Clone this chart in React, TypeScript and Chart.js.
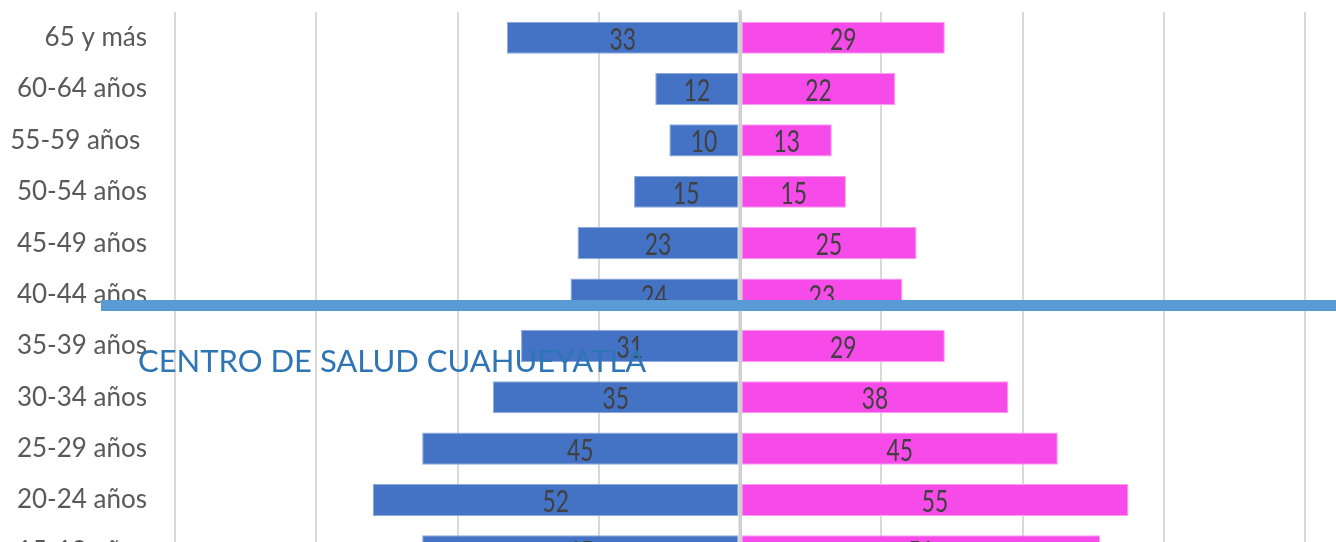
import React, { useEffect, useRef } from "react";
import { Chart, registerables } from "chart.js";

Chart.register(...registerables);

// ---- data (top to bottom as shown) ----
const ageGroups = [
  "65 y más",
  "60-64 años",
  "55-59 años ",
  "50-54 años",
  "45-49 años",
  "40-44 años",
  "35-39 años",
  "30-34 años",
  "25-29 años",
  "20-24 años",
  "15-19 años",
];
const hombres = [33, 12, 10, 15, 23, 24, 31, 35, 45, 52, 45];
const mujeres = [29, 22, 13, 15, 25, 23, 29, 38, 45, 55, 51];
const axisMin = -80;
const axisMax = 80;
const axisStep = 20;
const titleText = "CENTRO DE SALUD CUAHUEYATLA";

const valueLabels = {
  id: "valueLabels",
  afterDatasetsDraw(chart: any) {
    const ctx = chart.ctx as CanvasRenderingContext2D;
    const xs = chart.scales.x;
    const x0 = xs.getPixelForValue(0);
    ctx.save();
    ctx.strokeStyle = "#d0d0d0";
    ctx.lineWidth = 3;
    ctx.beginPath();
    ctx.moveTo(x0, chart.chartArea.top - 2);
    ctx.lineTo(x0, chart.chartArea.bottom);
    ctx.stroke();
    chart.data.datasets.forEach((ds: any, di: number) => {
      const meta = chart.getDatasetMeta(di);
      meta.data.forEach((el: any, i: number) => {
        const v = Math.abs(ds.data[i]);
        const cx = (el.x + el.base) / 2;
        ctx.save();
        ctx.translate(cx, el.y + 12);
        ctx.scale(0.76, 1);
        ctx.font = "30px Lato";
        ctx.fillStyle = "#404040";
        ctx.textAlign = "center";
        ctx.textBaseline = "alphabetic";
        ctx.fillText(String(v), 0, 0);
        ctx.restore();
      });
    });
    ctx.restore();
  },
};

export default function App() {
  const canvasRef = useRef<HTMLCanvasElement | null>(null);

  useEffect(() => {
    if (!canvasRef.current) return;
    const chart = new Chart(canvasRef.current, {
      type: "bar",
      data: {
        labels: ageGroups,
        datasets: [
          {
            label: "Hombres",
            data: hombres.map((v) => -v),
            backgroundColor: "#4472C4",
            borderColor: "#8EA9DB",
            borderWidth: 1,
            borderSkipped: false,
          },
          {
            label: "Mujeres",
            data: mujeres,
            backgroundColor: "#F64AE9",
            borderColor: "#FA9CF2",
            borderWidth: 1,
            borderSkipped: false,
          },
        ],
      },
      options: {
        indexAxis: "y",
        responsive: false,
        animation: false,
        layout: { padding: { top: 12, right: 31, bottom: 0, left: 0 } },
        datasets: {
          bar: { categoryPercentage: 1, barPercentage: 0.625 },
        },
        plugins: {
          legend: { display: false },
          tooltip: { enabled: false },
          title: { display: false },
        },
        scales: {
          x: {
            stacked: true,
            min: axisMin,
            max: axisMax,
            ticks: { display: false, stepSize: axisStep },
            border: { display: false },
            grid: {
              drawTicks: false,
              color: (c: any) => (c.tick && c.tick.value === 0 ? "#d0d0d0" : "#d9d9d9"),
              lineWidth: (c: any) => (c.tick && c.tick.value === 0 ? 3 : 2),
            },
          },
          y: {
            stacked: true,
            border: { display: false },
            grid: { display: false, drawTicks: false },
            ticks: {
              color: "#595959",
              font: { family: "Lato", size: 26 },
              padding: 28,
            },
            afterFit: (scale: any) => {
              scale.width = 175;
              scale.paddingTop = 0;
              scale.paddingBottom = 0;
            },
          },
        },
      },
      plugins: [valueLabels],
    });
    return () => chart.destroy();
  }, []);

  return (
    <div
      style={{
        position: "fixed",
        left: 0,
        top: 0,
        width: 1336,
        height: 542,
        overflow: "hidden",
        background: "#ffffff",
      }}
    >
      <canvas ref={canvasRef} width={1336} height={577} style={{ display: "block" }} />
      <div
        style={{
          position: "absolute",
          left: 101,
          top: 300,
          width: 1235,
          height: 11,
          background: "#5B9BD5",
        }}
      />
      <div
        style={{
          position: "absolute",
          left: 138,
          top: 345,
          fontFamily: "Lato",
          fontSize: 31,
          lineHeight: "31px",
          color: "#2E75B6",
          whiteSpace: "nowrap",
        }}
      >
        {titleText}
      </div>
    </div>
  );
}
